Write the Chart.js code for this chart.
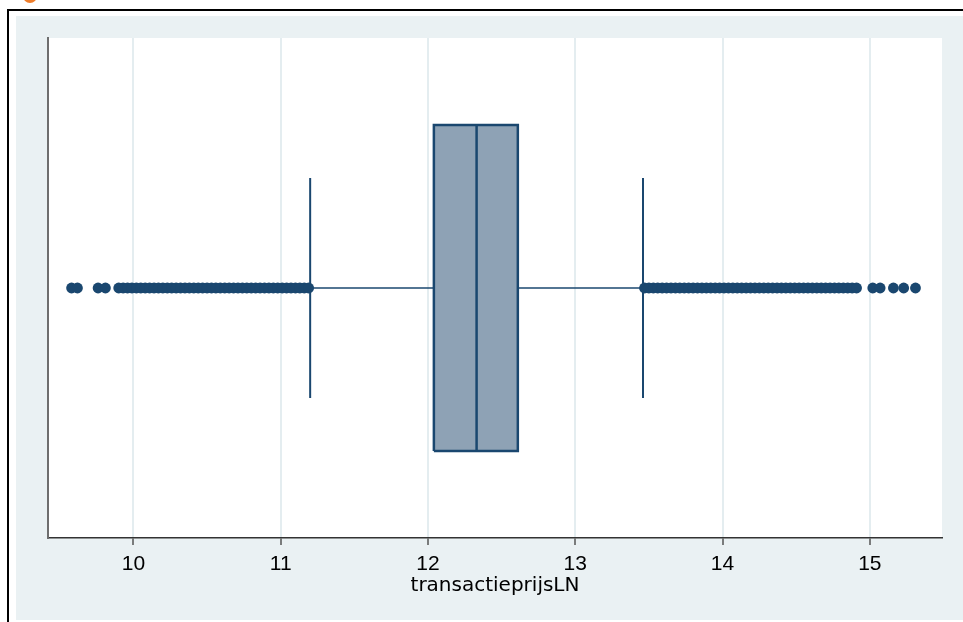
<!DOCTYPE html>
<html>
<head>
<meta charset="utf-8">
<script src="https://cdn.jsdelivr.net/npm/chart.js@4/dist/chart.umd.min.js"></script>
<style>
    html, body { margin: 0; padding: 0; background: #ffffff; }
    body { width: 963px; height: 622px; position: relative; overflow: hidden; }
    #frame {
        position: absolute; left: 7px; top: 9px; width: 960px; height: 620px;
        border-top: 2px solid #000; border-left: 2px solid #000;
    }
    #dot {
        position: absolute; left: 23px; top: -11px; width: 14px; height: 14px;
        border-radius: 50%; background: #ee7d2b;
    }
    #wrap {
        position: absolute; left: 16px; top: 16px; width: 947px; height: 604px;
        background: #eaf1f3;
    }
</style>
</head>
<body>
<div id="dot"></div>
<div id="frame"></div>
<div id="wrap"><canvas id="chart"></canvas></div>
<script>
// transactieprijsLN summary
const quartiles = [12.04, 12.33, 12.61];
const whiskers = [11.2, 13.46];
const lowOutliers = [9.58, 9.62, 9.76, 9.81,
    9.90, 9.93, 9.96, 9.99, 10.02, 10.05, 10.08, 10.11, 10.14, 10.17, 10.20,
    10.23, 10.26, 10.29, 10.32, 10.35, 10.38, 10.41, 10.44, 10.47, 10.50,
    10.53, 10.56, 10.59, 10.62, 10.65, 10.68, 10.71, 10.74, 10.77, 10.80,
    10.83, 10.86, 10.89, 10.92, 10.95, 10.98, 11.01, 11.04, 11.07, 11.10,
    11.13, 11.16, 11.19];
const highOutliers = [13.47, 13.50, 13.53, 13.56, 13.59, 13.62, 13.65, 13.68,
    13.71, 13.74, 13.77, 13.80, 13.83, 13.86, 13.89, 13.92, 13.95, 13.98,
    14.01, 14.04, 14.07, 14.10, 14.13, 14.16, 14.19, 14.22, 14.25, 14.28,
    14.31, 14.34, 14.37, 14.40, 14.43, 14.46, 14.49, 14.52, 14.55, 14.58,
    14.61, 14.64, 14.67, 14.70, 14.73, 14.76, 14.79, 14.82, 14.85, 14.88,
    14.91, 15.02, 15.07, 15.16, 15.23, 15.31];
const xTicks = [10, 11, 12, 13, 14, 15];
const xTitle = 'transactieprijsLN';

const navy = '#1a476f';
const boxFill = '#8ea2b5';
const mid = 0.5;
const boxLo = 0.174, boxHi = 0.826;
const capLo = 0.28, capHi = 0.72;

const [q1, med, q3] = quartiles;
const [wLo, wHi] = whiskers;

function segment(points, width) {
    return {
        data: points,
        showLine: true,
        borderColor: navy,
        borderWidth: width,
        pointRadius: 0,
        fill: false,
        order: 1
    };
}

const plotBackground = {
    id: 'plotBackground',
    beforeDraw(chart) {
        const {ctx, chartArea} = chart;
        ctx.save();
        ctx.fillStyle = '#ffffff';
        ctx.fillRect(chartArea.left, chartArea.top, chartArea.right - chartArea.left, chartArea.bottom - chartArea.top);
        ctx.restore();
    }
};

const outlierStyle = {
    showLine: false,
    pointRadius: 5.4,
    pointBackgroundColor: navy,
    pointBorderColor: navy,
    pointBorderWidth: 0,
    order: 0
};

new Chart(document.getElementById('chart'), {
    type: 'scatter',
    data: {
        datasets: [
            Object.assign({data: lowOutliers.map(v => ({x: v, y: mid}))}, outlierStyle),
            Object.assign({data: highOutliers.map(v => ({x: v, y: mid}))}, outlierStyle),
            {
                data: [{x: q1, y: boxLo}, {x: q3, y: boxLo}, {x: q3, y: boxHi}, {x: q1, y: boxHi}, {x: q1, y: boxLo}],
                showLine: true,
                borderColor: navy,
                borderWidth: 2.5,
                backgroundColor: boxFill,
                fill: 'shape',
                pointRadius: 0,
                tension: 0,
                order: 5
            },
            segment([{x: med, y: boxLo}, {x: med, y: boxHi}], 2.5),
            segment([{x: wLo, y: mid}, {x: q1, y: mid}], 1.5),
            segment([{x: q3, y: mid}, {x: wHi, y: mid}], 1.5),
            segment([{x: wLo, y: capLo}, {x: wLo, y: capHi}], 2),
            segment([{x: wHi, y: capLo}, {x: wHi, y: capHi}], 2)
        ]
    },
    options: {
        responsive: true,
        maintainAspectRatio: false,
        animation: false,
        layout: {
            padding: {left: 32, top: 22, right: 21, bottom: 0}
        },
        plugins: {
            legend: {display: false},
            tooltip: {enabled: false}
        },
        scales: {
            x: {
                type: 'linear',
                min: 9.42,
                max: 15.49,
                afterBuildTicks(scale) {
                    scale.ticks = xTicks.map(v => ({value: v}));
                },
                afterFit(scale) {
                    scale.height = 82;
                },
                grid: {
                    color: '#e4edf0',
                    lineWidth: 2,
                    tickLength: 7,
                    tickColor: '#555555',
                    tickWidth: 1.5
                },
                border: {display: true, color: '#333333', width: 1.5},
                ticks: {
                    color: '#000000',
                    padding: 7,
                    maxRotation: 0,
                    font: {family: '"Liberation Sans", Arial, sans-serif', size: 21}
                },
                title: {
                    display: true,
                    text: xTitle,
                    color: '#000000',
                    padding: {top: 0, bottom: 22},
                    font: {family: '"DejaVu Sans", sans-serif', size: 20}
                }
            },
            y: {
                type: 'linear',
                min: 0,
                max: 1,
                afterFit(scale) {
                    scale.width = 0;
                },
                grid: {display: false, drawTicks: false},
                border: {display: true, color: '#6e6e6e', width: 2},
                ticks: {display: false}
            }
        }
    },
    plugins: [plotBackground]
});
</script>
</body>
</html>
